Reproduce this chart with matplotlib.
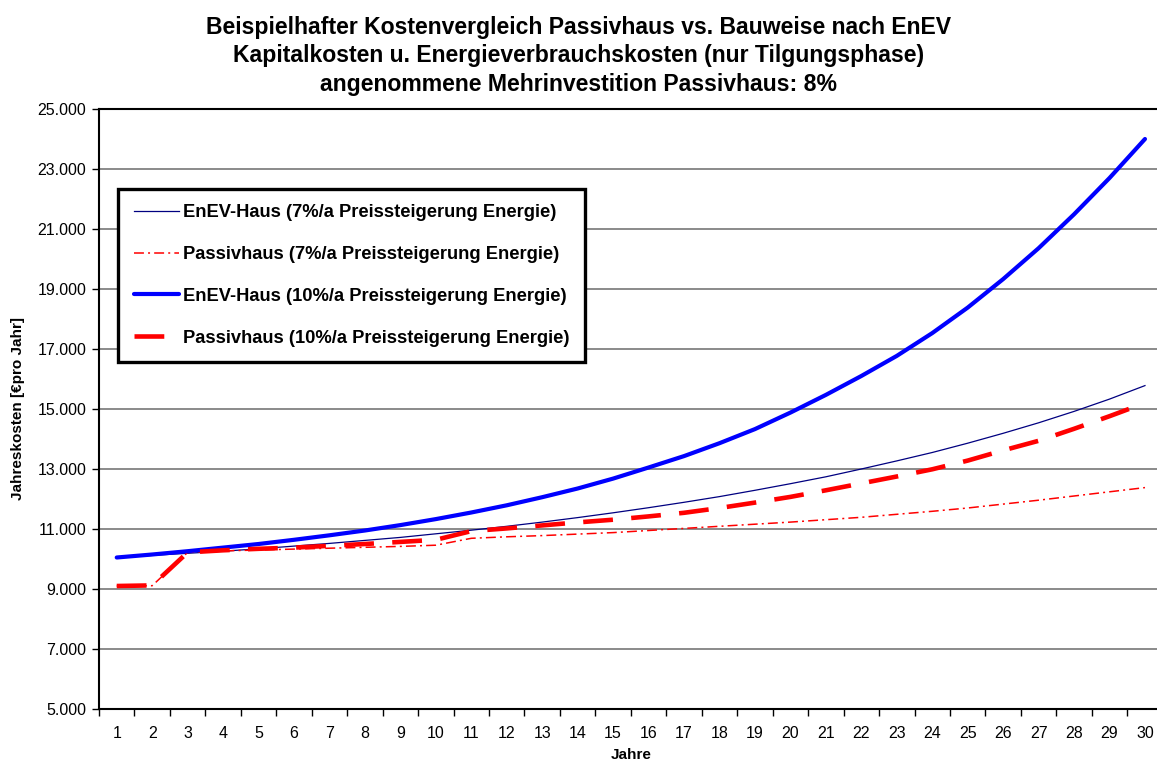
import matplotlib
matplotlib.use("Agg")
import matplotlib.pyplot as plt
from matplotlib.ticker import FixedLocator, FuncFormatter

plt.rcParams['font.family'] = ['Liberation Sans', 'DejaVu Sans']

jahre = list(range(1, 31))

# Jahreskosten in Euro
enev_7 = [10050, 10120, 10190, 10260, 10340, 10430, 10520, 10620, 10720, 10840,
          10960, 11090, 11230, 11380, 11540, 11710, 11890, 12080, 12290, 12510,
          12740, 13000, 13270, 13550, 13860, 14190, 14540, 14920, 15330, 15780]
passiv_7 = [9100, 9110, 10220, 10270, 10300, 10330, 10360, 10390, 10420, 10460,
            10690, 10740, 10780, 10830, 10880, 10950, 11020, 11090, 11160, 11230,
            11310, 11390, 11490, 11590, 11700, 11830, 11960, 12100, 12240, 12380]
enev_10 = [10050, 10150, 10260, 10380, 10500, 10640, 10790, 10950, 11130, 11330,
           11550, 11790, 12060, 12350, 12680, 13050, 13430, 13860, 14330, 14880,
           15470, 16100, 16770, 17530, 18380, 19330, 20360, 21490, 22700, 24000]
passiv_10 = [9100, 9120, 10220, 10290, 10340, 10380, 10440, 10500, 10570, 10640,
             10930, 11020, 11120, 11220, 11310, 11420, 11540, 11700, 11880, 12070,
             12290, 12520, 12750, 12990, 13280, 13620, 13940, 14340, 14760, 15200]

y_ticks = list(range(5000, 25001, 2000))

labels = ["EnEV-Haus (7%/a Preissteigerung Energie)",
          "Passivhaus (7%/a Preissteigerung Energie)",
          "EnEV-Haus (10%/a Preissteigerung Energie)",
          "Passivhaus (10%/a Preissteigerung Energie)"]

titel = ("Beispielhafter Kostenvergleich Passivhaus vs. Bauweise nach EnEV\n"
         "Kapitalkosten u. Energieverbrauchskosten (nur Tilgungsphase)\n"
         "angenommene Mehrinvestition Passivhaus: 8%")

fig = plt.figure(figsize=(11.57, 7.67), dpi=100, facecolor='white')
ax = fig.add_axes([99/1157, 58/767, 1063.7/1157, 600/767])

ax.plot(jahre, enev_7, color='#000080', lw=0.9, label=labels[0])
l2, = ax.plot(jahre, passiv_7, color='#ff0000', lw=1.1, label=labels[1])
l2.set_dashes((6.5, 2.7, 1.3, 2.7))
ax.plot(jahre, enev_10, color='#0000ff', lw=3.0, label=labels[2],
        solid_capstyle='round', solid_joinstyle='round')
l4, = ax.plot(jahre, passiv_10, color='#ff0000', lw=3.3, label=labels[3])
l4.set_dashes((6.5, 4.0))

ax.set_xlim(0.5, 30.5)
ax.set_ylim(5000, 25000)
ax.yaxis.set_major_locator(FixedLocator(y_ticks))
ax.yaxis.set_major_formatter(FuncFormatter(lambda v, p: f"{v:,.0f}".replace(",", ".")))
ax.set_xticks(jahre)
ax.xaxis.set_minor_locator(FixedLocator([i + 0.5 for i in range(0, 31)]))
ax.tick_params(axis='x', which='major', length=0, labelsize=11.5, pad=12)
ax.tick_params(axis='x', which='minor', length=5, width=1, direction='out')
ax.tick_params(axis='y', which='major', length=5, width=1, labelsize=11.5, pad=4)

ax.grid(axis='y', color='#777777', lw=1.2)
ax.set_axisbelow(True)
for s in ['left', 'bottom', 'top']:
    ax.spines[s].set_linewidth(1.5)
    ax.spines[s].set_color('black')
ax.spines['right'].set_visible(False)

ax.set_xlabel("Jahre", fontsize=11, fontweight='bold', labelpad=5)
ax.set_ylabel("Jahreskosten [€pro Jahr]", fontsize=11, fontweight='bold', labelpad=9)

fig.text(0.5, 1 - 16/767, titel, ha='center', va='top',
         fontsize=16.6, fontweight='bold', linespacing=1.3)

leg = ax.legend(loc='upper left', bbox_to_anchor=(0.018, 0.867), borderaxespad=0,
                prop={'weight': 'bold', 'size': 13.2}, handlelength=2.45,
                handletextpad=0.25, labelspacing=1.35, borderpad=0.85,
                fancybox=False, framealpha=1)
leg.get_frame().set_edgecolor('black')
leg.get_frame().set_linewidth(2.4)

fig.savefig("out.png", dpi=100, facecolor='white')
